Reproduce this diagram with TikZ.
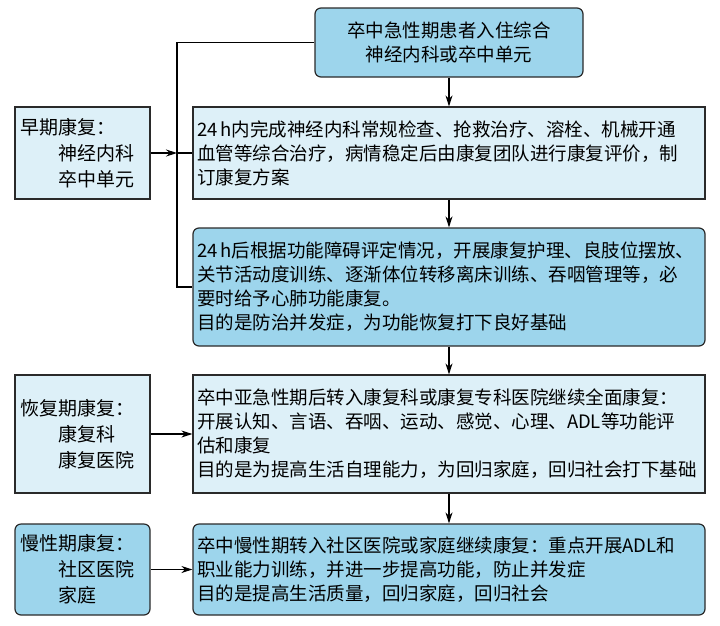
\documentclass[tikz,border=0pt]{standalone}
\usepackage{fontspec}
\setmainfont{Noto Sans CJK SC}
\usepackage{tikz}
\usetikzlibrary{arrows.meta}
\usepackage{xcolor}
\definecolor{deepblue}{HTML}{9DD5EC}
\definecolor{paleblue}{HTML}{DDF0F8}
\definecolor{edge}{HTML}{2A2A2A}

\begin{document}
\begin{tikzpicture}[x=1pt, y=-1pt,
        every node/.style={font=\fontsize{18.5}{24}\selectfont, inner xsep=4pt, inner ysep=0pt},
        stagebox/.style={draw=edge, line width=1.2pt, fill=paleblue, align=left},
        keybox/.style={stagebox, fill=deepblue, rounded corners=6pt},
        wide/.style={minimum width=512pt, text width=504pt},
        side/.style={minimum width=135pt, text width=125pt, font=\fontsize{19}{26}\selectfont},
        flow/.style={-{Stealth[length=11pt, width=7pt]}, line width=1.1pt, draw=black}]
        \useasboundingbox (0,0) rectangle (720,625);
        % main column
        \node[keybox, align=center, minimum width=268pt, minimum height=69pt] (admit) at (449,42.5)
            {卒中急性期患者入住综合\\神经内科或卒中单元};
        \node[stagebox, wide, minimum height=92pt] (acute) at (449,153)
            {24\,h内完成神经内科常规检查、抢救治疗、溶栓、机械开通\\血管等综合治疗，病情稳定后由康复团队进行康复评价，制\\订康复方案};
        \node[keybox, wide, minimum height=118pt] (early) at (449,287)
            {24\,h后根据功能障碍评定情况，开展康复护理、良肢位摆放、\\关节活动度训练、逐渐体位转移离床训练、吞咽管理等，必\\要时给予心肺功能康复。\\目的是防治并发症，为功能恢复打下良好基础};
        \node[stagebox, wide, minimum height=118pt] (recov) at (449,434)
            {卒中亚急性期后转入康复科或康复专科医院继续全面康复：\\开展认知、言语、吞咽、运动、感觉、心理、ADL等功能评\\估和康复\\目的是为提高生活自理能力，为回归家庭，回归社会打下基础};
        \node[keybox, wide, minimum height=91pt] (chron) at (449,569.5)
            {卒中慢性期转入社区医院或家庭继续康复：重点开展ADL和\\职业能力训练，并进一步提高功能，防止并发症\\目的是提高生活质量，回归家庭，回归社会};
        % stage labels
        \node[stagebox, side, minimum height=92pt] (stage1) at (82.5,153)
            {早期康复：\\\hspace*{2em}神经内科\\\hspace*{2em}卒中单元};
        \node[stagebox, side, minimum height=118pt] (stage2) at (82.5,434)
            {恢复期康复：\\\hspace*{2em}康复科\\\hspace*{2em}康复医院};
        \node[keybox, side, minimum height=91pt] (stage3) at (82.5,569.5)
            {慢性期康复：\\\hspace*{2em}社区医院\\\hspace*{2em}家庭};
        \coordinate (rail) at (177,0);
        \draw[line width=1.1pt] (admit.west) -| (rail |- early.west) -- (early.west);
        \draw[flow] (stage1.east) -- (rail |- stage1.east);
        \draw[line width=1.1pt] (rail |- acute.west) -- (acute.west);
        \draw[flow] (stage2) -- (recov);
        \draw[flow] (stage3) -- (chron);
        \draw[flow] (admit) -- (acute);
        \draw[flow] (acute) -- (early);
        \draw[flow] (early) -- (recov);
        \draw[flow] (recov) -- (chron);
\end{tikzpicture}
\end{document}
